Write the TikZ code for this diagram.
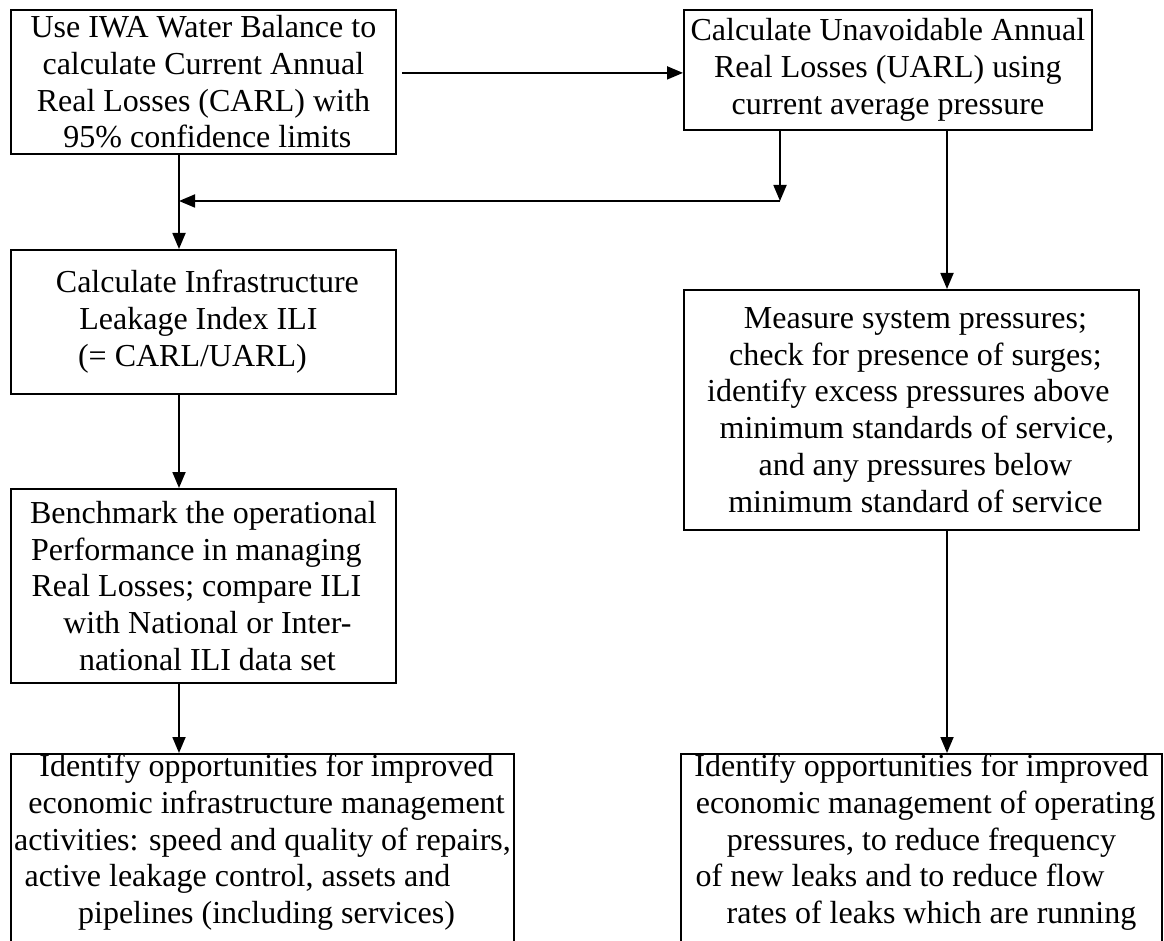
\documentclass[tikz,border=0pt]{standalone}
\usepackage{fontspec}
\setmainfont{Liberation Serif}
\usetikzlibrary{arrows.meta}

\begin{document}
\begin{tikzpicture}
[x=1pt, y=-1pt,
 flowbox/.style={draw, line width=1.8pt, inner xsep=0pt, inner ysep=0pt,
   align=center, anchor=north west, font=\fontsize{32}{36.8}\selectfont},
 openbox/.style={flowbox, anchor=north, text depth=200pt},
 arr/.style={line width=1.8pt, -{Triangle[length=16pt,width=13pt]}}]
\useasboundingbox (0,0) rectangle (1164,941);
\clip (0,0) rectangle (1164,941);

%% left column
\node[flowbox, minimum width=385pt, minimum height=144pt] (carl) at (10,9)
  {Use IWA Water Balance to\\ calculate Current Annual\\
   Real Losses (CARL) with\\ \hspace*{8pt}95\% confidence limits};
\node[flowbox, minimum width=385pt, minimum height=144pt] (ili) at (10,249)
  {\hspace*{8pt}Calculate Infrastructure\\ \hspace*{-10pt}Leakage Index ILI\\
   \hspace*{-22pt}(= CARL/UARL)};
\node[flowbox, minimum width=385pt, minimum height=194pt] (bench) at (10,488)
  {Benchmark the operational\\ \hspace*{-14pt}Performance in managing\\
   \hspace*{-14pt}Real Losses; compare ILI\\ \hspace*{8pt}with National or Inter-\\
   \hspace*{8pt}national ILI data set};
\node[openbox, minimum width=503pt] (infra) at (262.5,753)
  {\hspace*{8pt}Identify opportunities for improved\\
   \hspace*{8pt}economic infrastructure management\\
   activities: speed and quality of repairs,\\
   \hspace*{-50pt}active leakage control, assets and\\
   \hspace*{8pt}pipelines (including services)};

%% right column
\node[flowbox, minimum width=408pt, minimum height=120pt] (uarl) at (683,9)
  {Calculate Unavoidable Annual\\ Real Losses (UARL) using\\
   current average pressure};
\node[flowbox, minimum width=455pt, minimum height=240pt] (press) at (683,289)
  {\hspace*{8pt}Measure system pressures;\\ \hspace*{8pt}check for presence of surges;\\
   \hspace*{-6pt}identify excess pressures above\\
   \hspace*{11pt}minimum standards of service,\\
   \hspace*{8pt}and any pressures below\\ \hspace*{8pt}minimum standard of service};
\node[openbox, minimum width=481pt] (oper) at (921.5,753)
  {Identify opportunities for improved\\
   \hspace*{8pt}economic management of operating\\
   pressures, to reduce frequency\\
   \hspace*{-43pt}of new leaks and to reduce flow\\
   \hspace*{20pt}rates of leaks which are running};

%% connectors
\coordinate (leftcol) at (179,0);
\coordinate (midcol) at (780,201);
\coordinate (rightcol) at (947,0);
\coordinate (toparrow) at ([yshift=-3pt]uarl.west);

\draw[arr] ([xshift=5pt]carl.east |- toparrow) -- (toparrow);
\draw[arr] (carl.south -| leftcol) -- (ili.north -| leftcol);
\draw[arr] (uarl.south -| midcol) -- (midcol);
\draw[arr] (midcol) -- (midcol -| leftcol);
\draw[arr] (uarl.south -| rightcol) -- (press.north -| rightcol);
\draw[arr] (ili.south -| leftcol) -- (bench.north -| leftcol);
\draw[arr] (bench.south -| leftcol) -- (infra.north -| leftcol);
\draw[arr] (press.south -| rightcol) -- (oper.north -| rightcol);
\end{tikzpicture}
\end{document}
